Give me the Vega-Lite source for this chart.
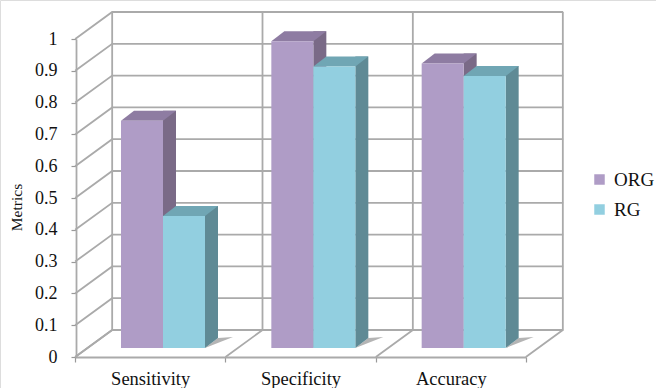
{
  "$schema": "https://vega.github.io/schema/vega-lite/v6.json",
  "width": 656,
  "height": 388,
  "padding": 0,
  "autosize": {"type": "none"},
  "background": "white",
  "datasets": {
    "bars": [
      {"category": "Sensitivity", "series": "ORG", "value": 0.715},
      {"category": "Sensitivity", "series": "RG", "value": 0.415},
      {"category": "Specificity", "series": "ORG", "value": 0.965},
      {"category": "Specificity", "series": "RG", "value": 0.885},
      {"category": "Accuracy", "series": "ORG", "value": 0.895},
      {"category": "Accuracy", "series": "RG", "value": 0.855}
    ],
    "ticks": [
      {"tick": 0}, {"tick": 0.1}, {"tick": 0.2}, {"tick": 0.3}, {"tick": 0.4}, {"tick": 0.5},
      {"tick": 0.6}, {"tick": 0.7}, {"tick": 0.8}, {"tick": 0.9}, {"tick": 1}
    ],
    "groups": [
      {"category": "Sensitivity"},
      {"category": "Specificity"},
      {"category": "Accuracy"}
    ]
  },
  "layer": [
    {
      "description": "Side wall and back wall gridlines, one polyline per tick",
      "data": {"name": "ticks"},
      "mark": {"type": "point", "shape": "M-75,0L-38,-27L413,-27", "size": 4, "filled": false, "stroke": "#aaaaaa", "strokeWidth": 1.8, "opacity": 1},
      "encoding": {
        "x": {"datum": "Sensitivity", "type": "nominal", "axis": {
          "orient": "bottom", "offset": -31, "title": null, "labelAngle": 0,
          "labelFont": "Liberation Serif", "labelFontSize": 18.5, "labelColor": "#111111",
          "labelPadding": 7, "domainColor": "#aaaaaa", "domainWidth": 1.8,
          "tickColor": "#999999", "tickWidth": 1.2, "tickSize": 5, "tickBand": "extent"
        }, "scale": {"type": "band", "domain": ["Sensitivity", "Specificity", "Accuracy"], "range": [75, 526], "paddingInner": 0, "paddingOuter": 0}},
        "y": {"field": "tick", "type": "quantitative", "axis": {
          "orient": "left", "offset": -76, "title": "Metrics", "titleFont": "Liberation Serif",
          "titleFontSize": 15.5, "titleFontWeight": "normal", "titleColor": "#111111", "titleX": -52, "titleY": 207,
          "values": [0, 0.1, 0.2, 0.3, 0.4, 0.5, 0.6, 0.7, 0.8, 0.9, 1], "grid": false, "format": ".1~f",
          "labelFont": "Liberation Serif", "labelFontSize": 18, "labelColor": "#111111", "labelPadding": 14,
          "domainColor": "#aaaaaa", "domainWidth": 1.8, "tickColor": "#999999", "tickWidth": 1.2, "tickSize": 5
        }, "scale": {"domain": [0, 1], "range": [357, 39], "nice": false}}
      }
    },
    {
      "description": "Category dividers across the floor and up the back wall",
      "data": {"name": "groups"},
      "mark": {"type": "point", "shape": "M-75,0L-38,-27L-38,-345", "size": 4, "filled": false, "stroke": "#aaaaaa", "strokeWidth": 1.8, "opacity": 1},
      "encoding": {
        "x": {"field": "category", "type": "nominal", "axis": null, "scale": {"type": "band", "domain": ["Sensitivity", "Specificity", "Accuracy"], "range": [75, 526], "paddingInner": 0, "paddingOuter": 0}},
        "y": {"datum": 0, "type": "quantitative", "axis": null, "scale": {"domain": [0, 1], "range": [357, 39], "nice": false}}
      }
    },
    {
      "description": "Closing edge on the right of the floor and back wall",
      "data": {"values": [{"category": "Accuracy"}]},
      "mark": {"type": "point", "shape": "M75,0L112,-27L112,-345", "size": 4, "filled": false, "stroke": "#aaaaaa", "strokeWidth": 1.8, "opacity": 1},
      "encoding": {
        "x": {"field": "category", "type": "nominal", "axis": null, "scale": {"type": "band", "domain": ["Sensitivity", "Specificity", "Accuracy"], "range": [75, 526], "paddingInner": 0, "paddingOuter": 0}},
        "y": {"datum": 0, "type": "quantitative", "axis": null, "scale": {"domain": [0, 1], "range": [357, 39], "nice": false}}
      }
    },
    {
      "description": "Floor shadow cast to the right of each column",
      "data": {"name": "bars"},
      "mark": {"type": "point", "shape": "M21,0L34,-10L49,-11Z", "size": 4, "filled": true, "fill": "#b4b4b4", "opacity": 1},
      "encoding": {
        "x": {"field": "category", "type": "nominal", "axis": null, "scale": {"type": "band", "domain": ["Sensitivity", "Specificity", "Accuracy"], "range": [75, 526], "paddingInner": 0, "paddingOuter": 0}},
        "xOffset": {"field": "series", "type": "nominal", "scale": {"type": "band", "domain": ["ORG", "RG"], "range": [46, 130], "paddingInner": 0, "paddingOuter": 0}},
        "y": {"datum": 0, "type": "quantitative", "axis": null, "scale": {"domain": [0, 1], "range": [348, 30], "nice": false}}
      }
    },
    {
      "description": "Right side face of each column, set back by the depth",
      "data": {"name": "bars"},
      "mark": {"type": "bar", "width": 13},
      "encoding": {
        "x": {"field": "category", "type": "nominal", "axis": null, "scale": {"type": "band", "domain": ["Sensitivity", "Specificity", "Accuracy"], "range": [75, 526], "paddingInner": 0, "paddingOuter": 0}},
        "xOffset": {"field": "series", "type": "nominal", "scale": {"type": "band", "domain": ["ORG", "RG"], "range": [73.5, 157.5], "paddingInner": 0, "paddingOuter": 0}},
        "y": {"field": "value", "type": "quantitative", "axis": null, "scale": {"domain": [0, 1], "range": [338, 20], "nice": false}},
        "color": {"field": "series", "type": "nominal", "legend": null, "scale": {"domain": ["ORG", "RG"], "range": ["#7a6a87", "#5f8a95"]}}
      }
    },
    {
      "description": "Lower wedge of the side face, down to the floor",
      "data": {"name": "bars"},
      "mark": {"type": "point", "shape": "M21,0L34,-10L21,-10Z", "size": 4, "filled": true, "opacity": 1},
      "encoding": {
        "x": {"field": "category", "type": "nominal", "axis": null, "scale": {"type": "band", "domain": ["Sensitivity", "Specificity", "Accuracy"], "range": [75, 526], "paddingInner": 0, "paddingOuter": 0}},
        "xOffset": {"field": "series", "type": "nominal", "scale": {"type": "band", "domain": ["ORG", "RG"], "range": [46, 130], "paddingInner": 0, "paddingOuter": 0}},
        "y": {"datum": 0, "type": "quantitative", "axis": null, "scale": {"domain": [0, 1], "range": [348, 30], "nice": false}},
        "color": {"field": "series", "type": "nominal", "legend": null, "scale": {"domain": ["ORG", "RG"], "range": ["#7a6a87", "#5f8a95"]}}
      }
    },
    {
      "description": "Top face of each column",
      "data": {"name": "bars"},
      "mark": {"type": "point", "shape": "M-21,0L21,0L34,-10L-8,-10Z", "size": 4, "filled": true, "opacity": 1},
      "encoding": {
        "x": {"field": "category", "type": "nominal", "axis": null, "scale": {"type": "band", "domain": ["Sensitivity", "Specificity", "Accuracy"], "range": [75, 526], "paddingInner": 0, "paddingOuter": 0}},
        "xOffset": {"field": "series", "type": "nominal", "scale": {"type": "band", "domain": ["ORG", "RG"], "range": [46, 130], "paddingInner": 0, "paddingOuter": 0}},
        "y": {"field": "value", "type": "quantitative", "axis": null, "scale": {"domain": [0, 1], "range": [348, 30], "nice": false}},
        "color": {"field": "series", "type": "nominal", "legend": null, "scale": {"domain": ["ORG", "RG"], "range": ["#8e7ca2", "#70a6b4"]}}
      }
    },
    {
      "description": "Front face of each column, which also carries the legend",
      "data": {"name": "bars"},
      "mark": {"type": "bar"},
      "encoding": {
        "x": {"field": "category", "type": "nominal", "axis": null, "scale": {"type": "band", "domain": ["Sensitivity", "Specificity", "Accuracy"], "range": [75, 526], "paddingInner": 0, "paddingOuter": 0}},
        "xOffset": {"field": "series", "type": "nominal", "scale": {"type": "band", "domain": ["ORG", "RG"], "range": [46, 130], "paddingInner": 0, "paddingOuter": 0}},
        "y": {"field": "value", "type": "quantitative", "axis": null, "scale": {"domain": [0, 1], "range": [348, 30], "nice": false}},
        "color": {"field": "series", "type": "nominal", "scale": {"domain": ["ORG", "RG"], "range": ["#af9cc6", "#92cfe0"]}, "legend": {
          "orient": "none", "legendX": 590, "legendY": 170, "title": null, "symbolType": "square", "symbolSize": 110,
          "symbolStrokeWidth": 0, "labelFont": "Liberation Serif", "labelFontSize": 19, "labelColor": "#111111",
          "labelOffset": 5, "rowPadding": 10
        }}
      }
    }
  ],
  "resolve": {"scale": {"x": "independent", "y": "independent", "xOffset": "independent", "color": "independent"}}
}
